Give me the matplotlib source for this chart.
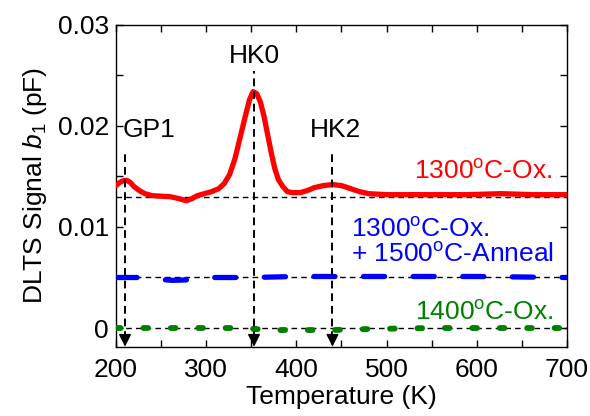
import matplotlib
matplotlib.use('Agg')
import matplotlib.pyplot as plt
from matplotlib.ticker import MultipleLocator, FixedFormatter, FixedLocator

plt.rcParams.update({
    'font.family': ['Liberation Sans', 'DejaVu Sans'],
    'font.size': 19,
    'mathtext.fontset': 'custom',
    'mathtext.rm': 'Liberation Sans',
    'mathtext.it': 'Liberation Sans:italic',
    'axes.linewidth': 1.0,
})

# 1300C oxidation (red)
temp_red = [200, 204, 208, 212, 216, 220, 226, 232, 240, 250, 260, 270, 278, 284,
            290, 298, 306, 314, 320, 326, 332, 338, 344, 348, 352, 356, 360, 364,
            368, 372, 376, 380, 385, 390, 396, 404, 412, 420, 430, 440, 450, 460,
            470, 480, 500, 550, 590, 627, 663, 700]
sig_red = [0.0141, 0.0144, 0.01458, 0.01462, 0.0144, 0.0140, 0.0136, 0.0133, 0.0131,
           0.01305, 0.0130, 0.0128, 0.0126, 0.0128, 0.0131, 0.0133, 0.0135, 0.0138,
           0.0143, 0.0152, 0.0168, 0.0190, 0.0212, 0.0226, 0.0234, 0.0232, 0.0224,
           0.0210, 0.0192, 0.0174, 0.0158, 0.0147, 0.0140, 0.0135, 0.0134, 0.0134,
           0.0136, 0.0139, 0.0141, 0.0142, 0.0141, 0.0138, 0.0135, 0.0133, 0.0132,
           0.0132, 0.0132, 0.0133, 0.0132, 0.0132]

# 1300C oxidation + 1500C anneal (blue)
temp_blue = [200, 240, 250, 262, 275, 285, 295, 350, 400, 500, 600, 700]
sig_blue = [0.0050, 0.0050, 0.0048, 0.00472, 0.00475, 0.0048, 0.0050, 0.0050,
            0.0051, 0.0051, 0.0051, 0.0050]

# 1400C oxidation (green)
temp_green = [200, 300, 340, 370, 400, 440, 480, 550, 700]
sig_green = [0.0, 0.0, 0.0, -0.0002, -0.0002, -0.0002, -0.0001, 0.0, 0.0]

baselines = [0.013, 0.005, 0.0]
peak_names = ['GP1', 'HK0', 'HK2']
peak_temps = [210, 353, 440]
peak_tops = [0.0174, 0.0254, 0.0174]
peak_label_pos = [(207, 0.0189, 'left'), (354, 0.0262, 'center'), (443, 0.0189, 'center')]

xmin, xmax = 200, 700
ymin, ymax = -0.00185, 0.03

fig = plt.figure(figsize=(5.9, 4.16), dpi=100)
ax = fig.add_axes([0.1966, 0.1666, 0.7644, 0.7734])

# dashed baselines
for b in baselines:
    ax.plot([xmin, xmax], [b, b], color='k', lw=1.0, ls=(0, (4, 3)), zorder=1)

# dashed peak markers with arrow heads
for t, top in zip(peak_temps, peak_tops):
    ax.plot([t, t], [ymin + 0.0008, top], color='k', lw=1.4, ls=(0, (4, 2.5)), zorder=4)
    ax.annotate('', xy=(t, ymin), xytext=(t, ymin + 0.0010),
                arrowprops=dict(arrowstyle='-|>', color='k', lw=1.0,
                                mutation_scale=19, shrinkA=0, shrinkB=0),
                zorder=5, annotation_clip=False)

for name, (t, y, ha) in zip(peak_names, peak_label_pos):
    ax.text(t, y, name, ha=ha, va='baseline', fontsize=19)

ax.plot(temp_red, sig_red, color='#ff0000', lw=3.8, solid_capstyle='round',
        solid_joinstyle='round', zorder=3)
ax.plot(temp_blue, sig_blue, color='#0000ff', lw=3.8, ls=(0, (4.0, 5.4)),
        dash_capstyle='round', zorder=3)
ax.plot(temp_green, sig_green, color='#008000', lw=4.2, ls=(0, (0.8, 3.9)),
        dash_capstyle='round', zorder=3)

ax.text(684, 0.01475, r'1300$^{\rm o}$C-Ox.', color='#ff0000', ha='right', va='baseline')
ax.text(460, 0.0090, r'1300$^{\rm o}$C-Ox.', color='#0000ff', ha='left', va='baseline')
ax.text(460, 0.00653, r'+ 1500$^{\rm o}$C-Anneal', color='#0000ff', ha='left', va='baseline')
ax.text(685, 0.0008, r'1400$^{\rm o}$C-Ox.', color='#008000', ha='right', va='baseline')

ax.set_xlim(xmin, xmax)
ax.set_ylim(ymin, ymax)
ax.xaxis.set_major_locator(MultipleLocator(100))
ax.xaxis.set_minor_locator(MultipleLocator(50))
ax.yaxis.set_major_locator(FixedLocator([0, 0.01, 0.02, 0.03]))
ax.yaxis.set_major_formatter(FixedFormatter(['0', '0.01', '0.02', '0.03']))
ax.yaxis.set_minor_locator(FixedLocator([0.005, 0.015, 0.025]))
ax.tick_params(which='both', direction='in', top=True, right=True, length=5, width=1.0)
ax.tick_params(axis='x', which='major', pad=8, labelsize=19)
ax.tick_params(axis='y', which='major', pad=5, labelsize=19)

ax.set_xlabel('Temperature (K)', fontsize=19, labelpad=2)
ax.set_ylabel(r'DLTS Signal $\it{b}_{\rm 1}$ (pF)', fontsize=19, labelpad=6)

fig.savefig('out.png', dpi=100)
